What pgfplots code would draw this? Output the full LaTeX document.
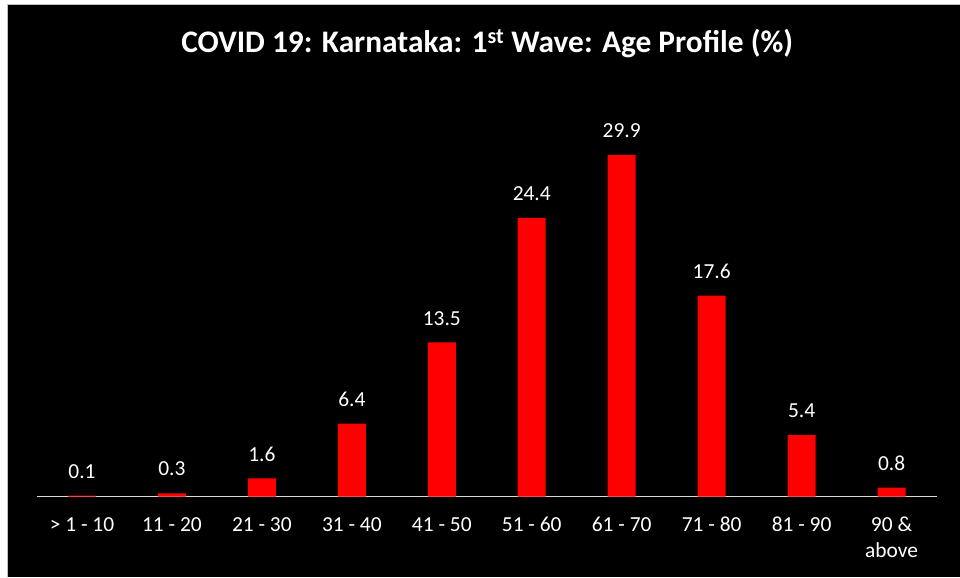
\documentclass[border=0pt]{standalone}
\usepackage{pgfplots}
\pgfplotsset{compat=1.18}
\usepackage{fontspec}
\setmainfont{Carlito}
\definecolor{axisgray}{HTML}{D9D9D9}
\definecolor{barred}{HTML}{FF0000}
\begin{document}
\begin{tikzpicture}[x=1bp,y=1bp]
\fill[white] (0,0) rectangle (960,577);
\fill[black] (8,0) rectangle (960,572);
\draw[gray!50, line width=1bp] (7.5,0) -- (7.5,572.5) -- (960,572.5);
\node[anchor=base, text=white, font=\fontsize{31.5}{36}\selectfont\bfseries] at (487.5,524) {COVID 19: Karnataka: 1\textsuperscript{st} Wave: Age Profile (\%)};
\begin{axis}[
  at={(37bp,80bp)}, anchor=south west,
  scale only axis, width=900bp, height=366bp,
  xmin=-0.5, xmax=9.5, ymin=0, ymax=32,
  axis x line*=bottom, axis y line=none,
  x axis line style={draw=axisgray, line width=1.5bp},
  major tick length=0pt,
  xtick={0,...,9},
  xticklabels={{> 1 - 10},{11 - 20},{21 - 30},{31 - 40},{41 - 50},{51 - 60},{61 - 70},{71 - 80},{81 - 90},{\begin{tabular}[t]{@{}c@{}}90 \&\\above\end{tabular}}},
  xticklabel style={text=white, font=\fontsize{21.5}{26}\selectfont, anchor=base, yshift=-34.5bp},
  ybar, bar width=28bp,
  clip=false,
  point meta=explicit symbolic,
  nodes near coords,
  nodes near coords style={text=white, font=\fontsize{21.5}{26}\selectfont, anchor=base, yshift=17.4bp, inner sep=0pt},
]
\addplot[fill=barred, draw=none] table[x=x, y=y, meta=lab] {
x y lab
0 0.1 0.1
1 0.3 0.3
2 1.6 1.6
3 6.4 6.4
4 13.5 13.5
5 24.4 24.4
6 29.9 29.9
7 17.6 17.6
8 5.4 5.4
9 0.8 0.8
};
\end{axis}
\end{tikzpicture}
\end{document}
